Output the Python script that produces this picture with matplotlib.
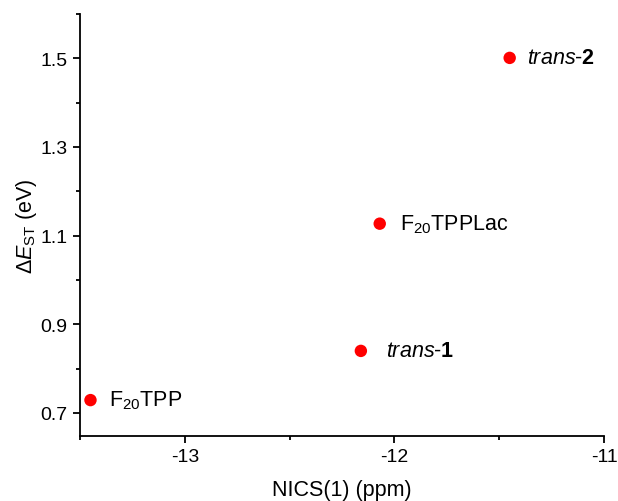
import matplotlib
matplotlib.use("Agg")
import matplotlib.pyplot as plt
from matplotlib.ticker import MultipleLocator

plt.rcParams['font.family'] = ['Liberation Sans', 'DejaVu Sans']
plt.rcParams['mathtext.fontset'] = 'custom'
plt.rcParams['mathtext.rm'] = 'Liberation Sans'
plt.rcParams['mathtext.it'] = 'Liberation Sans:italic'
plt.rcParams['mathtext.bf'] = 'Liberation Sans:bold'

names = [r'F$_{20}$TPP', r'$\mathit{trans}$-$\mathbf{1}$', r'F$_{20}$TPPLac', r'$\mathit{trans}$-$\mathbf{2}$']
nics = [-13.45, -12.16, -12.07, -11.45]
dest = [0.729, 0.840, 1.127, 1.501]
label_dx = [0.09, 0.12, 0.095, 0.085]

fig = plt.figure(figsize=(6.18, 5.02), dpi=100)
ax = fig.add_axes([80/618, (502-437)/502, (604-80)/618, (437-15)/502])
ax.scatter(nics, dest, s=80, color='#ff0000', zorder=3, edgecolors='none')
for x, y, n, dx in zip(nics, dest, names, label_dx):
    ax.text(x + dx, y, n, fontsize=15.5, va='center', ha='left')

ax.set_xlim(-13.5, -11)
ax.set_ylim(0.648, 1.6)
ax.xaxis.set_minor_locator(MultipleLocator(0.5))
ax.yaxis.set_minor_locator(MultipleLocator(0.1))
ax.set_yticks([0.7, 0.9, 1.1, 1.3, 1.5])
ax.set_yticklabels(['0.7', '0.9', '1.1', '1.3', '1.5'])
ax.set_xticks([-13, -12, -11])
ax.set_xticklabels(['-13', '-12', '-11'])
for s in ['top', 'right']:
    ax.spines[s].set_visible(False)
for s in ['left', 'bottom']:
    ax.spines[s].set_linewidth(1.3)
ax.tick_params(which='major', direction='out', length=5, width=1.3, labelsize=14, pad=4)
ax.tick_params(which='minor', direction='out', length=3, width=1.3)
ax.set_xlabel('NICS(1) (ppm)', fontsize=15.5, labelpad=10)
ax.set_ylabel(r'$\Delta\mathit{E}_{\mathrm{ST}}$ (eV)', fontsize=15.5, labelpad=1)

fig.savefig('out.png', dpi=100)
